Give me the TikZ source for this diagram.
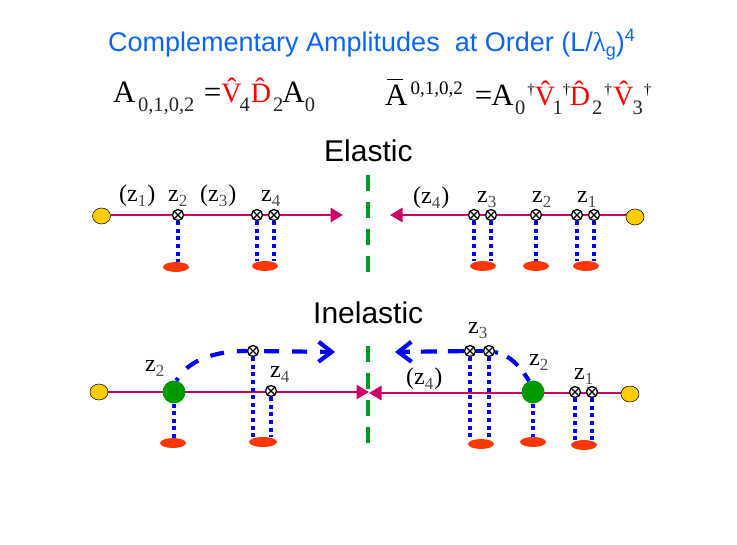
\documentclass[tikz,border=0pt]{standalone}
\usepackage{fontspec}
\setmainfont{Liberation Serif}
\newfontfamily\headfont{Liberation Sans}
\usetikzlibrary{arrows.meta,backgrounds,shapes.geometric}
\definecolor{titleblue}{RGB}{10,102,250}
\definecolor{quark}{RGB}{204,0,102}
\definecolor{cutgreen}{RGB}{0,153,40}
\definecolor{gluon}{RGB}{0,0,255}
\definecolor{target}{RGB}{255,55,0}
\definecolor{source}{RGB}{255,204,0}
\definecolor{opred}{RGB}{255,0,0}
\definecolor{emitgreen}{RGB}{0,153,0}
% formula helpers: large letters with lowered or raised indices
\newcommand{\bigtxt}{\fontsize{31}{31}\selectfont}
\newcommand{\lowidx}[1]{\raisebox{-9pt}{\fontsize{20.5}{20.5}\selectfont\textcolor{black!85}{#1}}}
\newcommand{\highidx}[1]{\raisebox{11pt}{\fontsize{19}{19}\selectfont #1}}
\newcommand{\dgr}{\raisebox{11pt}{\fontsize{15}{15}\selectfont †}}
\newcommand{\op}[1]{\textcolor{opred}{\fontsize{28}{28}\selectfont\^{#1}}}
\newcommand{\kn}[1]{\hspace{#1pt}}
% a z label with its index, in the size used along the lines
\newcommand{\zi}[1]{z\raisebox{-5pt}{\fontsize{17}{17}\selectfont\textcolor{black!70}{#1}}}
\tikzset{
  x=1pt,y=-1pt,
  heading/.style={font=\headfont\fontsize{30}{30}\selectfont,anchor=base west,inner sep=0pt},
  formula/.style={font=\bigtxt,anchor=base west,inner sep=0pt},
  zlabel/.style={font=\fontsize{24}{24}\selectfont,anchor=base west,inner sep=0pt},
  vertex/.style={circle,draw=black,fill=white,line width=1.3pt,minimum size=11pt,inner sep=0pt,
    path picture={\draw[black,line width=1.1pt]
      (path picture bounding box.south west)--(path picture bounding box.north east)
      (path picture bounding box.north west)--(path picture bounding box.south east);}},
  srcnode/.style={ellipse,draw=black,line width=.5pt,fill=source,minimum width=18pt,minimum height=16pt,inner sep=0pt},
  tgtnode/.style={ellipse,fill=target,minimum width=26pt,minimum height=10pt,inner sep=0pt},
  emit/.style={circle,fill=emitgreen,minimum size=23pt,inner sep=0pt},
  quarkline/.style={draw=quark,line width=2.8pt,-{Triangle[length=12.5pt,width=14pt]}},
  exchange/.style={draw=gluon,line width=4pt,dash pattern=on 4pt off 3.6pt},
  cutline/.style={draw=cutgreen,line width=3.4pt,dash pattern=on 16pt off 11pt},
  radiated/.style={draw=gluon,line width=4.2pt},
  radiatedtip/.style={radiated,-{Straight Barb[length=13pt,width=20pt,line width=4.2pt]}},
}
\begin{document}
\begin{tikzpicture}
\useasboundingbox (0,0) rectangle (737,545);

% title
\node[anchor=base west,inner sep=0pt,text=titleblue,font=\headfont\fontsize{27}{27}\selectfont] (title) at (108,52)
  {Complementary Amplitudes\ \ at Order (L/{\rmfamily λ}\raisebox{-5pt}{\fontsize{18}{18}\selectfont g})\raisebox{10pt}{\fontsize{18}{18}\selectfont 4}};

% amplitudes
\node[formula] (ampl) at (113,103)
  {A\kn{2.5}\lowidx{0,1,0,2}\kn{9.5}=\op{V}\kn{-2}\lowidx{4}\kn{1}\op{D}\kn{2}\lowidx{2}\kn{-1}A\lowidx{0}};
\node[formula] (conj) at (385,106)
  {\rlap{\kn{2}\raisebox{26pt}{\rule{16pt}{1.2pt}}}A\kn{3}\highidx{0,1,0,2}\kn{12}=\kn{-1}A\kn{1.5}\lowidx{0}\kn{2}\dgr\op{V}\kn{-2.5}\lowidx{1}\dgr\kn{-0.5}\op{D}\kn{2}\lowidx{2}\kn{2}\dgr\kn{1.5}\op{V}\kn{-1}\lowidx{3}\kn{1}\dgr};

% section headings
\node[heading] (elastic) at (324,162) {Elastic};
\node[heading] (inelastic) at (313,324) {Inelastic};

% final-state cuts
\coordinate (cutAtop) at (368,175);
\coordinate (cutAbot) at (368,272);
\coordinate (cutBtop) at (368,346);
\coordinate (cutBbot) at (368,443);
\draw[cutline] (cutAtop) -- (cutAbot);
\draw[cutline] (cutBtop) -- (cutBbot);

% elastic, amplitude side
\node[srcnode] (s1) at (101.5,216) {};
\node[vertex] (e2) at (178,215) {};
\node[vertex] (e3) at (257,215) {};
\node[vertex] (e4) at (274,215) {};
\node[tgtnode] (t1) at (176,267) {};
\node[tgtnode] (t2) at (265,266) {};
\coordinate (tipA) at (343,215);
\begin{pgfonlayer}{background}
  \draw[quarkline] (s1.east |- tipA) -- (tipA);
\end{pgfonlayer}
\draw[exchange] (e2) -- (e2 |- t1.north);
\draw[exchange] (e3) -- (e3 |- t2.north);
\draw[exchange] (e4) -- (e4 |- t2.north);
\node[zlabel] (la1) at (119,202) {(\zi{1}\kn{1})};
\node[zlabel] (la2) at (168,202) {\zi{2}};
\node[zlabel] (la3) at (200,202) {(\zi{3}\kn{1})};
\node[zlabel] (la4) at (261,202) {\zi{4}};

% elastic, conjugate side
\node[srcnode] (s2) at (635,217) {};
\node[vertex] (f1) at (474,215) {};
\node[vertex] (f2) at (491,215) {};
\node[vertex] (f3) at (536,215) {};
\node[vertex] (f4) at (577,215) {};
\node[vertex] (f5) at (594,215) {};
\node[tgtnode] (t3) at (483,266) {};
\node[tgtnode] (t4) at (536,266) {};
\node[tgtnode] (t5) at (586,266) {};
\coordinate (tipB) at (390,215);
\begin{pgfonlayer}{background}
  \draw[quarkline] (s2.west |- tipB) -- (tipB);
\end{pgfonlayer}
\draw[exchange] (f1) -- (f1 |- t3.north);
\draw[exchange] (f2) -- (f2 |- t3.north);
\draw[exchange] (f3) -- (f3 |- t4.north);
\draw[exchange] (f4) -- (f4 |- t5.north);
\draw[exchange] (f5) -- (f5 |- t5.north);
\node[zlabel] (lb1) at (413,204) {(\zi{4}\kn{1})};
\node[zlabel] (lb2) at (477,203) {\zi{3}};
\node[zlabel] (lb3) at (532,203) {\zi{2}};
\node[zlabel] (lb4) at (577,203) {\zi{1}};

% inelastic, amplitude side
\node[srcnode] (s3) at (99,392) {};
\node[emit] (g1) at (174,392) {};
\node[vertex] (h1) at (253,351) {};
\node[vertex] (h2) at (271,391) {};
\node[tgtnode] (t6) at (173,443) {};
\node[tgtnode,minimum width=28pt] (t7) at (263,442) {};
\coordinate (tipC) at (369,392);
\coordinate (tipE) at (335,352);
\begin{pgfonlayer}{background}
  \draw[quarkline] (s3.east |- tipC) -- (tipC);
\end{pgfonlayer}
\draw[exchange] (g1) -- (g1 |- t6.north);
\draw[exchange] (h1) -- (h1 |- t7.north);
\draw[exchange] (h2) -- (h2 |- t7.north);
\draw[radiated,dash pattern=on 14pt off 13pt,dash phase=11pt] (g1.78) .. controls (188,360) and (215,351) .. (h1);
\draw[radiatedtip,dash pattern=on 15pt off 13pt,dash phase=23pt] (h1) -- (tipE);
\node[zlabel] (lc1) at (145,372) {\zi{2}};
\node[zlabel] (lc2) at (270,378) {\zi{4}};

% inelastic, conjugate side
\node[srcnode] (s4) at (630,394) {};
\node[emit] (g2) at (533,392) {};
\node[vertex] (k1) at (470,351) {};
\node[vertex] (k2) at (489,351) {};
\node[vertex] (k3) at (575,392) {};
\node[vertex] (k4) at (592,392) {};
\node[tgtnode] (t8) at (481,444) {};
\node[tgtnode] (t9) at (533,442) {};
\node[tgtnode] (t10) at (584,445) {};
\coordinate (tipD) at (369,393);
\coordinate (tipF) at (395,352);
\begin{pgfonlayer}{background}
  \draw[quarkline] (s4.west |- tipD) -- (tipD);
\end{pgfonlayer}
\draw[exchange] (g2) -- (g2 |- t9.north);
\draw[exchange] (k1) -- (k1 |- t8.north);
\draw[exchange] (k2) -- (k2 |- t8.north);
\draw[exchange] (k3) -- (k3 |- t10.north);
\draw[exchange] (k4) -- (k4 |- t10.north);
\draw[radiated,dash pattern=on 14pt off 10pt,dash phase=5pt] (g2.110) .. controls (520,366) and (510,355) .. (k2);
\draw[radiatedtip,dash pattern=on 16pt off 11pt] (k1) -- (tipF);
\draw[radiated] (k2) -- (k1);
\node[zlabel] (ld1) at (468,334) {\zi{3}};
\node[zlabel] (ld2) at (529,366) {\zi{2}};
\node[zlabel] (ld3) at (574,380) {\zi{1}};
\node[zlabel] (ld4) at (406,385) {(\zi{4}\kn{1})};
\end{tikzpicture}
\end{document}
